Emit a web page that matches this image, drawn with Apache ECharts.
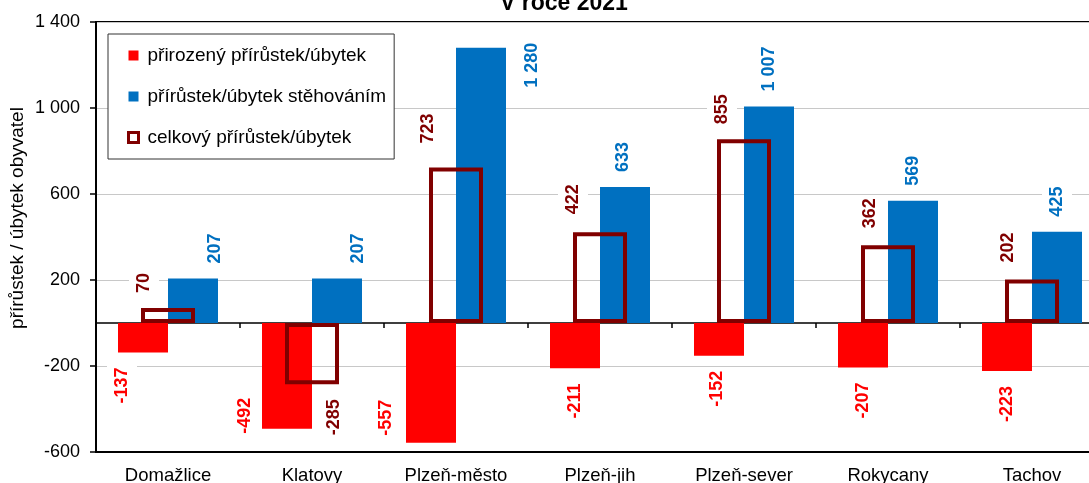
<!DOCTYPE html>
<html><head><meta charset="utf-8">
<script src="https://cdn.jsdelivr.net/npm/echarts@6/dist/echarts.min.js"></script>
<style>html,body{margin:0;padding:0;background:#fff}#c{width:1089px;height:483px}</style>
</head><body><div id="c"></div>
<script>
const categories = ['Domažlice', 'Klatovy', 'Plzeň-město', 'Plzeň-jih', 'Plzeň-sever', 'Rokycany', 'Tachov'];
const natural = [-137, -492, -557, -211, -152, -207, -223];
const migration = [207, 207, 1280, 633, 1007, 569, 425];
const total = [70, -285, 723, 422, 855, 362, 202];
const seriesNames = ['přirozený přírůstek/úbytek', 'přírůstek/úbytek stěhováním', 'celkový přírůstek/úbytek'];

// label nudges in screen pixels [dx, dy]
const naturalNudge = [[-21, 0], [-42, -46], [-45, -58], [0, 0], [-2, 0], [0, 0], [0, 0]];
const migrationNudge = [[22, 0], [21, 0], [51, 55], [-2, 0], [0, 0], [0, 0], [0, 0]];
const totalNudge = [[-24, 0], [22, 0], [-28, -9], [-27, -3], [-22, 0], [-18, -2], [-24, -2]];

const FONT = 'Liberation Sans, Arial, sans-serif';
const RED = '#ff0000', BLUE = '#0070c0', DARK = '#800000';

function fmt(v) {
  const s = Math.abs(v).toString().replace(/\B(?=(\d{3})+(?!\d))/g, ' ');
  return (v < 0 ? '-' : '') + s;
}
// rotated labels: offset is applied in the rotated frame
function toOffset(n) { return [-n[1], n[0]]; }

function labelFor(v, color, nudge) {
  const up = v >= 0;
  return {
    show: true, rotate: 90, color: color,
    fontSize: 18, fontWeight: 'bold', fontFamily: FONT,
    backgroundColor: '#fff', padding: [6, 3, 6, 3],
    position: up ? 'top' : 'bottom',
    align: up ? 'left' : 'right', verticalAlign: 'middle',
    distance: 12,
    offset: toOffset(nudge),
    formatter: p => fmt(p.value)
  };
}

const chart = echarts.init(document.getElementById('c'), null, {renderer: 'canvas'});
chart.setOption({
  animation: false,
  backgroundColor: '#fff',
  textStyle: {fontFamily: FONT},
  title: {
    text: 'V roce 2021', left: 500, top: -8, padding: 0,
    textStyle: {fontSize: 23, fontWeight: 'bold', color: '#000', fontFamily: FONT}
  },
  graphic: [{
    type: 'text', x: 18, y: 218, rotation: Math.PI / 2,
    style: {text: 'přírůstek / úbytek obyvatel', fontSize: 19, fontFamily: FONT, fill: '#000',
            align: 'center', verticalAlign: 'middle'}
  }],
  legend: {
    orient: 'vertical', left: 108, top: 34,
    padding: [12, 8, 12, 19], itemGap: 22,
    itemWidth: 10, itemHeight: 10,
    backgroundColor: '#fff', borderColor: '#333', borderWidth: 1,
    textStyle: {fontSize: 19, color: '#000', fontFamily: FONT, padding: [0, 0, 0, 4]},
    data: [
      {name: seriesNames[0], icon: 'rect'},
      {name: seriesNames[1], icon: 'rect'},
      {name: seriesNames[2], icon: 'rect', itemStyle: {color: '#fff', borderColor: DARK, borderWidth: 3}}
    ]
  },
  grid: {left: 96, top: 22, width: 1008, bottom: 31, outerBoundsMode: 'none', containLabel: false,
         show: true, borderColor: '#000', borderWidth: 2},
  xAxis: [{
    type: 'category', data: categories, position: 'top',
    axisLine: {onZero: true, lineStyle: {color: '#000', width: 1.5}},
    axisTick: {show: true, inside: true, length: 5, lineStyle: {color: '#000', width: 1.5}},
    axisLabel: {show: false}, splitLine: {show: false}
  }, {
    type: 'category', data: categories, position: 'bottom',
    axisLine: {show: true, onZero: false, lineStyle: {color: '#000', width: 2}},
    axisTick: {show: false},
    axisLabel: {fontSize: 18.5, color: '#000', fontFamily: FONT, margin: 14},
    splitLine: {show: false}
  }],
  yAxis: {
    type: 'value', min: -600, max: 1400, interval: 400,
    axisLine: {show: true, onZero: false, lineStyle: {color: '#000', width: 2}},
    axisTick: {show: true, length: 6, lineStyle: {color: '#000', width: 1.5}},
    axisLabel: {fontSize: 18, color: '#000', fontFamily: FONT, margin: 16, formatter: v => fmt(v)},
    splitLine: {show: true, lineStyle: {color: '#c8c8c8', width: 1}}
  },
  series: [{
    name: seriesNames[0], type: 'bar', xAxisIndex: 0, barWidth: 50, barGap: '0%',
    itemStyle: {color: RED},
    data: natural.map((v, i) => ({value: v, label: labelFor(v, RED, naturalNudge[i])}))
  }, {
    name: seriesNames[1], type: 'bar', xAxisIndex: 0, barWidth: 50, barGap: '0%',
    itemStyle: {color: BLUE},
    data: migration.map((v, i) => ({value: v, label: labelFor(v, BLUE, migrationNudge[i])}))
  }, {
    name: seriesNames[2], type: 'bar', xAxisIndex: 1, barWidth: 54,
    itemStyle: {color: 'rgba(0,0,0,0)', borderColor: DARK, borderWidth: 4},
    data: total.map((v, i) => ({value: v, label: labelFor(v, DARK, totalNudge[i])}))
  }]
});
</script></body></html>
